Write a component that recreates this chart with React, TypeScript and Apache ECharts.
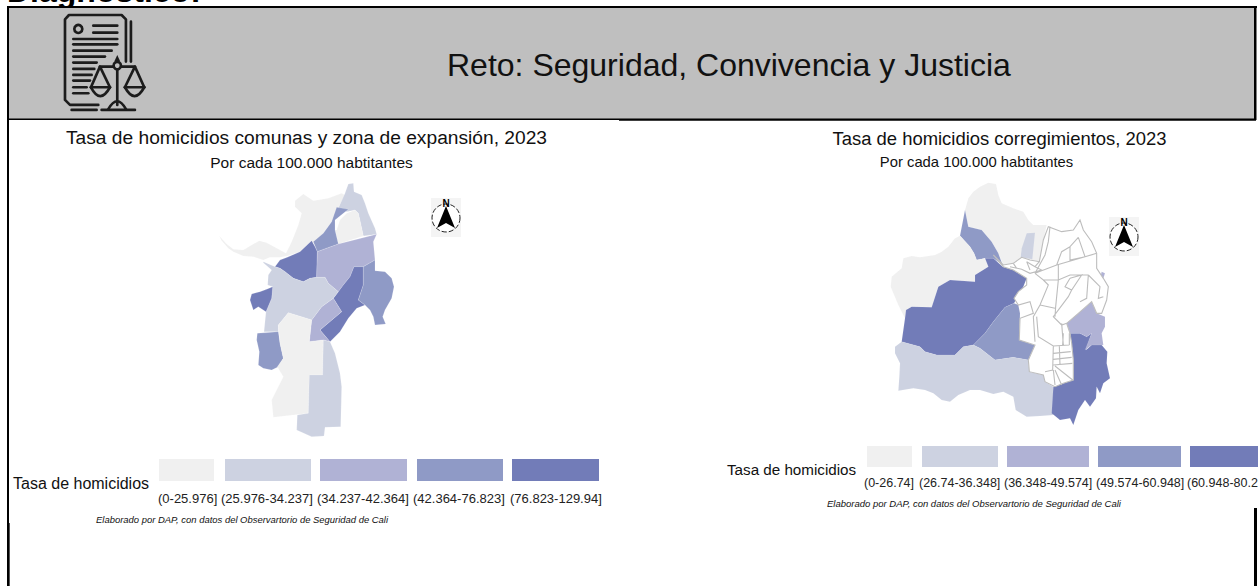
import React, { useEffect, useRef } from "react";
import * as echarts from "echarts";

const palette = ["#F0F0F0", "#CDD2E1", "#B0B2D5", "#8F9AC6", "#727CB8"];
const headerTitle = "Reto: Seguridad, Convivencia y Justicia";
const sectionHeading = "Diagnóstico:";
const leftTitle = "Tasa de homicidios comunas y zona de expansión, 2023";
const rightTitle = "Tasa de homicidios corregimientos, 2023";
const subTitle = "Por cada 100.000 habtitantes";
const legendTitle = "Tasa de homicidios";
const credit = "Elaborado por DAP, con datos del Observartorio de Seguridad de Cali";
const leftLabels = ["(0-25.976]", "(25.976-34.237]", "(34.237-42.364]", "(42.364-76.823]", "(76.823-129.94]"];
const rightLabels = ["(0-26.74]", "(26.74-36.348]", "(36.348-49.574]", "(49.574-60.948]", "(60.948-80.2"];
const leftBreaks = [0, 25.976, 34.237, 42.364, 76.823, 129.94];
const rightBreaks = [0, 26.74, 36.348, 49.574, 60.948, 80.2];

// Estimated rate per zone: only the class of each zone can be read from the picture.
const leftRates: [string, number][] = [
  ["Zona noroeste", 15], ["Zona norte", 30], ["Enclave norte", 20], ["Zona centro norte", 60],
  ["Zona noroccidente", 100], ["Zona centro oriente", 38], ["Zona oriente diagonal", 105],
  ["Zona oriente", 55], ["Zona centro sur", 38], ["Zona occidente", 30], ["Zona oeste", 110],
  ["Zona suroeste", 60], ["Zona sur centro", 18], ["Zona sur", 30],
];
const rightRates: [string, number][] = [
  ["Corregimiento norte", 15], ["Corregimiento angosto", 30], ["Corregimiento noroeste", 55],
  ["Corregimiento oeste", 12], ["Corregimiento central", 72], ["Corregimiento centro sur", 55],
  ["Corregimiento sur", 31], ["Corregimiento sureste", 75], ["Corregimiento este", 42],
  ["Corregimiento franja este", 42],
];

// Zone outlines, in map units.
const leftShapes: Record<string, number[][]> = {
  "Zona noroeste": [[58,198],[80,222],[100,238],[130,240],[150,228],[178,212],[200,218],[225,232],[258,250],[275,215],[295,165],[305,130],[285,110],[285,92],[310,72],[340,92],[385,85],[425,70],[435,75],[415,115],[405,135],[395,155],[370,190],[345,215],[330,225],[300,245],[262,258],[240,262],[210,262],[190,270],[160,260],[130,258],[100,245],[85,235],[65,212]],
  "Zona norte": [[445,42],[460,40],[462,65],[485,75],[495,100],[505,130],[525,175],[530,193],[490,198],[475,130],[465,120],[440,125],[415,115],[435,70]],
  "Enclave norte": [[410,180],[420,150],[440,130],[465,120],[475,130],[490,198],[415,222],[405,180]],
  "Zona centro norte": [[410,112],[445,118],[405,150],[405,180],[415,222],[352,245],[340,215],[370,190],[395,155]],
  "Zona noroccidente": [[225,290],[240,270],[262,262],[300,245],[335,212],[345,230],[352,245],[350,322],[330,325],[310,335],[280,325],[255,305],[240,295]],
  "Zona centro oriente": [[352,245],[415,222],[530,193],[520,215],[525,270],[490,290],[462,290],[450,320],[430,345],[415,365],[385,340],[375,322],[350,322]],
  "Zona oriente diagonal": [[462,290],[490,290],[490,345],[475,390],[495,405],[470,415],[445,445],[420,485],[390,515],[360,480],[425,425],[400,385],[415,365],[430,345],[450,320]],
  "Zona oriente": [[490,290],[525,270],[525,302],[555,305],[575,325],[582,350],[575,385],[555,420],[548,440],[557,462],[525,465],[520,440],[510,420],[495,405],[475,390],[490,345]],
  "Zona centro sur": [[400,385],[425,425],[360,480],[390,515],[370,510],[328,515],[335,450],[365,410]],
  "Zona occidente": [[190,275],[225,290],[240,295],[255,305],[280,325],[310,335],[330,325],[350,322],[375,322],[385,340],[415,365],[400,385],[365,410],[335,450],[265,428],[235,465],[235,485],[192,485],[198,425],[215,385],[218,350],[203,345],[205,315],[215,300],[190,278]],
  "Zona oeste": [[150,390],[155,372],[180,365],[200,358],[218,350],[215,385],[198,425],[175,410],[160,420]],
  "Zona suroeste": [[172,490],[235,485],[240,520],[250,565],[235,590],[215,600],[190,595],[175,585],[178,545],[170,510]],
  "Zona sur centro": [[265,428],[335,450],[328,515],[370,510],[368,615],[328,615],[325,730],[220,742],[215,690],[250,620],[232,590],[250,565],[240,520],[235,465]],
  "Zona sur": [[370,510],[390,515],[405,550],[420,610],[425,650],[422,770],[375,772],[372,798],[335,800],[290,780],[292,735],[325,730],[328,615],[368,615]],
};
const rightShapes: Record<string, number[][]> = {
  "Corregimiento norte": [[285,120],[295,85],[310,65],[330,50],[355,38],[378,42],[385,75],[395,100],[430,115],[460,125],[475,150],[490,165],[530,165],[520,210],[508,275],[480,268],[455,262],[430,280],[400,285],[385,250],[365,215],[335,180],[295,170]],
  "Corregimiento angosto": [[470,190],[495,188],[487,268],[452,262],[455,235]],
  "Corregimiento noroeste": [[285,120],[295,170],[335,180],[365,215],[385,250],[398,285],[370,265],[345,265],[320,270],[312,250],[300,230],[270,197]],
  "Corregimiento oeste": [[270,197],[300,230],[312,250],[320,270],[345,265],[355,290],[315,315],[315,335],[240,330],[205,350],[185,412],[125,410],[108,420],[105,445],[85,405],[62,350],[65,320],[95,295],[100,265],[125,258],[150,262],[195,255],[215,245],[235,230],[255,205]],
  "Corregimiento central": [[108,420],[125,410],[185,412],[205,350],[240,330],[315,335],[315,315],[355,290],[345,265],[370,265],[398,290],[430,300],[470,325],[460,350],[432,400],[405,412],[370,455],[345,490],[310,525],[280,530],[255,555],[200,555],[165,545],[150,530],[95,515],[100,480],[105,445]],
  "Corregimiento centro sur": [[432,400],[445,405],[450,430],[448,510],[495,525],[475,570],[430,562],[375,570],[330,535],[310,525],[345,490],[370,455],[405,412]],
  "Corregimiento sur": [[95,515],[150,530],[165,545],[200,555],[255,555],[280,530],[310,525],[330,535],[375,570],[430,562],[475,570],[478,605],[520,615],[525,635],[550,650],[550,735],[510,738],[470,740],[437,720],[430,680],[400,665],[370,672],[330,660],[300,660],[265,675],[240,695],[215,690],[190,670],[165,660],[130,655],[85,662],[88,620],[90,580],[75,550],[75,530]],
  "Corregimiento sureste": [[600,490],[630,490],[650,500],[665,490],[648,540],[665,525],[695,525],[712,545],[710,580],[720,625],[700,640],[690,670],[680,650],[678,685],[660,710],[645,690],[625,720],[610,765],[600,745],[570,750],[545,730],[550,650],[560,645],[580,640],[610,630],[610,570],[605,520]],
  "Corregimiento este": [[665,395],[680,430],[705,440],[705,470],[695,490],[700,525],[665,525],[645,540],[665,490],[650,500],[630,490],[600,490],[590,460],[625,430]],
  "Corregimiento franja este": [[695,305],[705,310],[700,325],[715,350],[712,362],[690,325]],
};
const cityOutline = [[370,255],[400,285],[430,280],[455,262],[480,270],[508,275],[520,210],[535,170],[575,185],[610,180],[630,150],[640,180],[665,215],[680,250],[680,295],[700,325],[715,350],[710,390],[695,430],[680,430],[665,395],[625,430],[590,460],[600,490],[605,520],[610,570],[610,630],[580,640],[555,650],[525,635],[520,615],[478,605],[475,570],[495,525],[448,510],[450,445],[490,430],[480,395],[445,405],[432,385],[445,365],[470,345],[470,325],[430,300],[400,290]];
const cityDivisions = [
  [[625,202],[600,230],[600,270],[645,260],[625,202]],
  [[600,230],[575,245],[560,285]],
  [[495,310],[560,285],[680,250]],
  [[565,285],[565,330],[557,410],[555,440]],
  [[495,310],[520,330],[565,330],[600,315],[655,315]],
  [[600,325],[635,315],[605,360],[585,350],[600,325]],
  [[655,315],[690,350],[685,385],[700,380]],
  [[655,315],[650,385],[630,395]],
  [[520,330],[535,345],[510,405],[490,440],[495,515]],
  [[510,405],[555,415]],
  [[605,360],[595,380],[550,440],[575,465],[590,460]],
  [[420,290],[455,298],[480,310],[515,300],[495,290],[470,275]],
  [[470,275],[480,300]],
  [[495,290],[508,275]],
  [[430,280],[440,295]],
  [[540,170],[535,215],[525,255],[495,310]],
  [[575,460],[580,525]],
  [[500,440],[505,500],[550,528],[598,525]],
  [[550,550],[602,545]],
  [[550,568],[605,562]],
  [[550,585],[607,580]],
  [[555,588],[608,630]],
  [[568,528],[570,585]],
  [[598,490],[598,525]],
  [[580,490],[578,525]],
  [[550,528],[548,600],[525,605]],
  [[550,600],[555,645]],
  [[555,600],[575,645]],
];

// Document + scales icon, north arrow: drawing lists.
const iconLines = [
  [115,47,187,47],[115,68,187,68],[55,87,187,87],[55,103,187,103],[55,122,170,122],[55,140,150,140],
  [55,158,125,158],[55,177,118,177],[55,195,110,195],[55,212,105,212],[55,232,95,232],[55,250,100,250],
  [228,35,228,155],[50,300,125,300],[140,300,240,300],[187,180,187,285],[135,170,175,170],[199,170,240,170],
];
const iconPolylines = [
  [[130,285],[45,285],[30,270],[30,28],[42,15],[200,15],[213,28],[213,155]],
  [[108,232],[135,170],[165,232]],
  [[210,232],[240,170],[268,232]],
  [[108,232],[165,232]],
  [[210,232],[268,232]],
];
const iconCurves = [
  [108,232,165,232,136,285],
  [210,232,268,232,239,285],
  [160,298,213,298,187,250],
];

function toGeoJSON(shapes: Record<string, number[][]>, extra: any[] = []) {
  const features = Object.keys(shapes).map((name) => ({
    type: "Feature",
    properties: { name },
    geometry: { type: "Polygon", coordinates: [[...shapes[name], shapes[name][0]]] },
  }));
  return { type: "FeatureCollection", features: [...features, ...extra] };
}

function pieces(breaks: number[]) {
  return palette.map((color, i) => ({ gt: breaks[i], lte: breaks[i + 1], color }));
}

function txt(text: string, x: number, y: number, size: number, extra: any = {}) {
  return {
    type: "text",
    x,
    y,
    silent: true,
    style: {
      text,
      font: `${extra.fontStyle || "normal"} ${extra.fontWeight || "normal"} ${size}px "Liberation Sans", Arial, sans-serif`,
      fill: extra.fill || "#111",
      textAlign: extra.align || "left",
      textVerticalAlign: "middle",
    },
  };
}

function box(x: number, y: number, w: number, h: number, fill: string) {
  return { type: "rect", silent: true, shape: { x, y, width: w, height: h }, style: { fill } };
}

function northArrow(x: number, y: number) {
  return {
    type: "group",
    x,
    y,
    silent: true,
    children: [
      box(-15, -20, 30, 39, "#F4F4F4"),
      { type: "circle", shape: { cx: 0, cy: 0, r: 14 }, style: { fill: "#fff", stroke: "#222", lineWidth: 1, lineDash: [5, 2] } },
      { type: "polygon", shape: { points: [[0, -12], [9, 10], [0, 5], [-9, 10]] }, style: { fill: "#000" } },
      txt("N", 0, -15, 10, { fontWeight: "bold", align: "center", fill: "#000" }),
    ],
  };
}

function icon() {
  const stroke = { stroke: "#1c1c1c", lineWidth: 8, fill: "none", lineCap: "round", lineJoin: "round" };
  return {
    type: "group",
    x: 55,
    y: 10,
    scaleX: 1 / 3,
    scaleY: 1 / 3,
    silent: true,
    children: [
      ...iconLines.map((l) => ({ type: "line", shape: { x1: l[0], y1: l[1], x2: l[2], y2: l[3] }, style: stroke })),
      ...iconPolylines.map((p) => ({ type: "polyline", shape: { points: p }, style: stroke })),
      ...iconCurves.map((c) => ({ type: "bezierCurve", shape: { x1: c[0], y1: c[1], x2: c[2], y2: c[3], cpx1: c[4], cpy1: c[5] }, style: stroke })),
      { type: "circle", shape: { cx: 70, cy: 57, r: 12 }, style: stroke },
      { type: "circle", shape: { cx: 187, cy: 167, r: 11 }, style: stroke },
      { type: "polygon", shape: { points: [[187, 135], [178, 155], [196, 155]] }, style: { fill: "#1c1c1c" } },
    ],
  };
}

function legend(swatches: number[][], labelXs: number[], labels: string[], top: number, bottom: number, labelY: number, labelSize: number) {
  return [
    ...swatches.map((s, i) => box(s[0], top, s[1] - s[0], bottom - top, palette[i])),
    ...labels.map((l, i) => txt(l, labelXs[i], labelY, labelSize, { fill: "#222" })),
  ];
}

export default function App() {
  const ref = useRef<HTMLDivElement>(null);
  useEffect(() => {
    if (!ref.current) return;
    echarts.registerMap("comunas", toGeoJSON(leftShapes) as any);
    echarts.registerMap(
      "corregimientos",
      toGeoJSON(rightShapes, [
        { type: "Feature", properties: { name: "Zona urbana" }, geometry: { type: "Polygon", coordinates: [[...cityOutline, cityOutline[0]]] } },
        { type: "Feature", properties: { name: "Divisiones" }, geometry: { type: "MultiLineString", coordinates: cityDivisions } },
      ]) as any
    );
    const chart = echarts.init(ref.current, undefined, { renderer: "svg" });
    const identity = { project: (p: number[]) => p, unproject: (p: number[]) => p };
    const mapBase = {
      type: "map",
      projection: identity,
      roam: false,
      silent: true,
      selectedMode: false,
      label: { show: false },
      emphasis: { disabled: true },
      select: { disabled: true },
    };
    chart.setOption({
      animation: false,
      backgroundColor: "#fff",
      visualMap: [
        { type: "piecewise", show: false, seriesIndex: 0, pieces: pieces(leftBreaks) },
        { type: "piecewise", show: false, seriesIndex: 1, pieces: pieces(rightBreaks) },
      ],
      series: [
        {
          ...mapBase,
          map: "comunas",
          boundingCoords: [[0, 0], [840, 840]],
          left: 200,
          top: 170,
          width: 280,
          height: 280,
          itemStyle: { areaColor: "#fff", borderColor: "rgba(255,255,255,0.3)", borderWidth: 0.5 },
          data: leftRates.map(([name, value]) => ({ name, value })),
        },
        {
          ...mapBase,
          map: "corregimientos",
          boundingCoords: [[0, 0], [840, 810]],
          left: 870,
          top: 170,
          width: 280,
          height: 270,
          itemStyle: { areaColor: "#fff", borderColor: "#BDBDBD", borderWidth: 1.1 },
          data: rightRates.map(([name, value]) => ({ name, value, itemStyle: { borderColor: "rgba(255,255,255,0.2)", borderWidth: 0.4 } })),
        },
      ],
      graphic: {
        elements: [
          txt(sectionHeading, 7, -9, 32, { fontWeight: "bold", fill: "#000" }),
          box(8, 8, 1247, 111, "#BFBFBF"),
          box(7, 6, 1250, 2, "#000"),
          box(7, 6, 2, 580, "#000"),
          box(9, 523, 1, 63, "#555"),
          box(1254, 6, 2.5, 114, "#000"),
          box(1254, 508, 3, 78, "#000"),
          box(8, 118.5, 611, 1.5, "#000"),
          box(619, 118.5, 637, 2.3, "#000"),
          icon(),
          txt(headerTitle, 447, 65, 32),
          txt(leftTitle, 306.5, 137, 19.2, { align: "center" }),
          txt(subTitle, 311.5, 162, 15.5, { align: "center" }),
          txt(rightTitle, 999.5, 138, 18.45, { align: "center" }),
          txt(subTitle, 976.5, 162, 14.8, { align: "center" }),
          northArrow(446, 218),
          northArrow(1124, 237),
          ...legend([[159,214],[225,311],[320,407],[417,503],[512,599]], [158,221,317,413,510], leftLabels, 459, 481, 498, 13),
          ...legend([[867,912],[922,998],[1007,1089],[1098,1181],[1190,1258]], [864,919,1004,1096,1187], rightLabels, 446, 467, 483, 12.5),
          txt(legendTitle, 13, 483, 16),
          txt(legendTitle, 727, 469, 15.2),
          txt(credit, 96, 519, 9.45, { fontStyle: "italic" }),
          txt(credit, 827, 503, 9.5, { fontStyle: "italic" }),
        ],
      },
    });
    return () => chart.dispose();
  }, []);
  return <div ref={ref} style={{ position: "fixed", left: 0, top: 0, width: 1258, height: 586 }} />;
}
